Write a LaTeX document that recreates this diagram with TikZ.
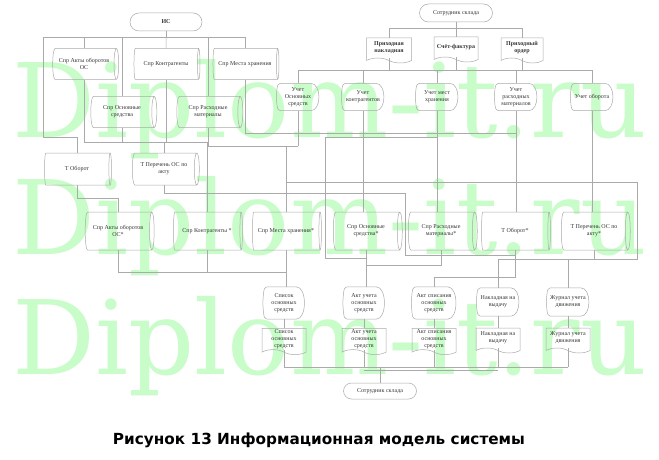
\documentclass[tikz,border=0pt]{standalone}
\usepackage{graphicx}
\usepackage{fontspec}
\setmainfont{Liberation Serif}
\newfontfamily\wmfont{DejaVu Serif}
\newfontfamily\capfont{DejaVu Sans}
\usetikzlibrary{shapes.geometric,shapes.misc,shapes.symbols,calc}
\definecolor{wm}{RGB}{200,252,200}
\definecolor{ln}{RGB}{170,170,170}
\definecolor{tx}{RGB}{55,55,55}
\newcommand\dispshape[1]{%
  \draw[draw=ln,line width=0.5pt] ([xshift=7pt]#1.north west) -- ([xshift=-9pt]#1.north east)
    .. controls ([xshift=2pt]#1.north east) and ([xshift=2pt]#1.south east) .. ([xshift=-9pt]#1.south east)
    -- ([xshift=7pt]#1.south west) .. controls ([xshift=1pt]#1.south west) .. (#1.west)
    .. controls ([xshift=1pt]#1.north west) .. ([xshift=7pt]#1.north west);}
\begin{document}
\begin{tikzpicture}[x=1pt,y=-1pt,
  every node/.style={font=\fontsize{6}{7}\selectfont, text=tx, align=center, inner sep=1pt},
  bf/.style={font=\fontsize{6}{7}\selectfont\bfseries},
  conn/.style={draw=ln, line width=0.5pt},
  cyl/.style={cylinder, draw=ln, line width=0.5pt, aspect=0.35, minimum height=66pt, minimum width=31pt},
  cylb/.style={cyl, minimum height=69pt, minimum width=38pt},
  term/.style={rounded rectangle, draw=ln, line width=0.5pt, minimum width=75pt, minimum height=18pt},
  docu/.style={tape, tape bend top=none, tape bend bottom=out and in, tape bend height=5pt, draw=ln, line width=0.5pt, minimum width=44pt, minimum height=25pt},
  dispbox/.style={minimum width=43pt, minimum height=27pt},
]
\fill[white] (0,0) rectangle (659,460);
\useasboundingbox (0,0) rectangle (659,460);

% watermark
\node[anchor=base west, inner sep=0pt, text=wm] (w1) at (12,137) {\resizebox{634pt}{78pt}{\wmfont Diplom-it.ru}};
\node[anchor=base west, inner sep=0pt, text=wm] (w2) at (12,254) {\resizebox{634pt}{78pt}{\wmfont Diplom-it.ru}};
\node[anchor=base west, inner sep=0pt, text=wm] (w3) at (12,374) {\resizebox{634pt}{78pt}{\wmfont Diplom-it.ru}};

% level coordinates
\coordinate (y28) at (0,28);
\coordinate (y37) at (0,37);
\coordinate (y70) at (0,70);
\coordinate (y142) at (0,142);
\coordinate (y259) at (0,259);
\coordinate (y272) at (0,272);
\coordinate (y277) at (0,277);
\coordinate (y367) at (0,367);
\coordinate (y370) at (0,370);

% left group
\node[term, bf, minimum width=74pt] (is) at (166,22) {ИС};
\node[cyl] (c1) at (84,64) {Спр Акты оборотов\\ОС};
\node[cyl] (c2) at (166,64) {Спр Контрагенты};
\node[cyl] (c3) at (245,64) {Спр Места хранения};
\node[cyl] (c4) at (122,112) {Спр Основные\\средства};
\node[cyl] (c5) at (208,112) {Спр Расходные\\материалы};
\node[cyl, minimum height=67pt, minimum width=32pt] (t1) at (77,169) {Т Оборот};
\node[cyl, minimum height=67pt, minimum width=32pt] (t2) at (164,169) {Т Перечень ОС по\\акту};

% right group
\node[term] (cc1) at (456,13) {Сотрудник склада};
\node[docu, bf, minimum width=45pt] (pn) at (389,48) {Приходная\\накладная};
\node[docu, bf] (sf) at (456,47) {Счёт-фактура};
\node[docu, bf, minimum width=42pt] (po) at (522,48) {Приходный\\ордер};

\node[dispbox] (u1) at (298,97) {Учет\\Основных\\средств};
\node[dispbox] (u2) at (363,97) {Учет\\контрагентов};
\node[dispbox] (u3) at (437,97) {Учет мест\\хранения};
\node[dispbox] (u4) at (516,97) {Учет\\расходных\\материалов};
\node[dispbox] (u5) at (592,97) {Учет оборота};
\foreach \n in {u1,u2,u3,u4,u5} {\dispshape{\n}}

% third row
\node[cylb] (r1) at (118,231) {Спр Акты оборотов\\ОС*};
\node[cylb] (r2) at (207,231) {Спр Контрагенты *};
\node[cylb] (r3) at (286,231) {Спр Места хранения*};
\node[cylb] (r4) at (366,231) {Спр Основные\\средства*};
\node[cylb] (r5) at (441,231) {Спр Расходные\\материалы*};
\node[cylb] (r6) at (515,231) {Т Оборот*};
\node[cylb] (r7) at (594,231) {Т Перечень ОС по\\акту*};

% bottom displays and documents
\node[dispbox, minimum width=42pt, minimum height=32pt] (b1) at (284,303) {Список\\основных\\средств};
\node[dispbox, minimum width=42pt, minimum height=32pt] (b2) at (364,303) {Акт учета\\основных\\средств};
\node[dispbox, minimum width=45pt, minimum height=32pt] (b3) at (434,303) {Акт списания\\основных\\средств};
\node[dispbox, minimum width=43pt, minimum height=28pt] (b4) at (498,302) {Накладная на\\выдачу};
\node[dispbox, minimum width=43pt, minimum height=28pt] (b5) at (568,302) {Журнал учета\\движения};
\foreach \n in {b1,b2,b3,b4,b5} {\dispshape{\n}}

\node[docu] (d1) at (284,339) {Список\\основных\\средств};
\node[docu] (d2) at (364,339) {Акт учета\\основных\\средств};
\node[docu] (d3) at (434,339) {Акт списания\\основных\\средств};
\node[docu] (d4) at (498,338) {Накладная на\\выдачу};
\node[docu] (d5) at (568,338) {Журнал учета\\движения};
\node[term, minimum height=16pt] (cc2) at (380,391) {Сотрудник склада};

% caption
\node[font=\capfont\bfseries, text=black] (cap) at (319,440) {\resizebox{412pt}{!}{Рисунок 13 Информационная модель системы}};

% ---- connectors: left group
\draw[conn] (is.south) -- (is.south |- y37);
\draw[conn] (is.south |- y37) -| (c1.north);
\draw[conn] (is.south |- y37) -| (c4.north);
\draw[conn] (is.south |- y37) -- (c2.north);
\draw[conn] (is.south |- y37) -| (c5.north);
\draw[conn] (is.south |- y37) -| (c3.north);
\draw[conn] (c1.north |- y37) -| (43,137) -| (t1.north);
\draw[conn] (c1.south) |- (r2.north |- y142) -- (r2.north);
\draw[conn] (c4.south) -- (c4.south |- y142);
\draw[conn] (c2.south) -- (c2.south |- y142);
\draw[conn] (t2.north) -- (t2.north |- y142);
\draw[conn] (t1.south) -- ++(0,13) -| (r1.north);
\draw[conn] (t2.south) |- (405,193) |- (r6.south |- 0,255) -- (r6.south);
\draw[conn] (c5.south) |- (u1.south |- 0,146);
\draw[conn] (u1.south) -- (u1.south |- 0,146);
\draw[conn] (r3.north |- 0,146) -- (r3.north);
\draw[conn] (r3.north |- 0,182) -| (637,259) -| (b4.north);
\draw[conn] (c3.south) |- (u4.south |- 0,133);
\draw[conn] (r4.west |- 0,258) -| (325,137) -| (u3.south);
\draw[conn] (r4.south |- 0,258) -- (325,258);

% ---- connectors: right group
\draw[conn] (cc1.south) -- (sf.north);
\draw[conn] (cc1.south |- y28) -| (pn.north);
\draw[conn] (cc1.south |- y28) -| (po.north);
\draw[conn] (pn.south) -- (pn.south |- y70);
\draw[conn] (sf.south) -- (sf.south |- y70);
\draw[conn] (po.south) -- (po.south |- y70);
\draw[conn] (u1.north |- y70) -- (u5.north |- y70);
\foreach \n in {u1,u2,u3,u4,u5} {\draw[conn] (\n.north) -- (\n.north |- y70);}
\draw[conn] (u2.south) -- (u2.south |- r4.north);
\draw[conn] (u3.south) -- (u3.south |- r5.north);
\draw[conn] (u4.south) -- (u4.south |- r6.north);
\draw[conn] (u5.south) -- (u5.south |- r7.north);

% ---- connectors: below third row
\draw[conn] (r1.south) |- (r3.south |- y272);
\draw[conn] (r2.south) -- (r2.south |- y272);
\draw[conn] (r3.south) -- (r3.south |- b1.north);
\draw[conn] (r4.south) -- (r4.south |- b2.north);
\draw[conn] (r5.south) |- (r4.south |- 0,265);
\draw[conn] (r6.south) |- (b3.north |- y277) -- (b3.north);
\draw[conn] (r7.south) -- (r7.south |- y259);
\draw[conn] (b5.north) -- (b5.north |- y259);

% ---- connectors: bottom
\foreach \i in {1,...,5} {
  \draw[conn] (b\i.south) -- (d\i.north);
  \draw[conn] (d\i.south) -- (d\i.south |- y367);
}
\draw[conn] (d1.south |- y367) -- (d5.south |- y367);
\draw[conn] (d2.south |- y370) -- (d4.south |- y370);
\draw[conn] (cc2.north) -- (cc2.north |- y367);
\end{tikzpicture}
\end{document}
